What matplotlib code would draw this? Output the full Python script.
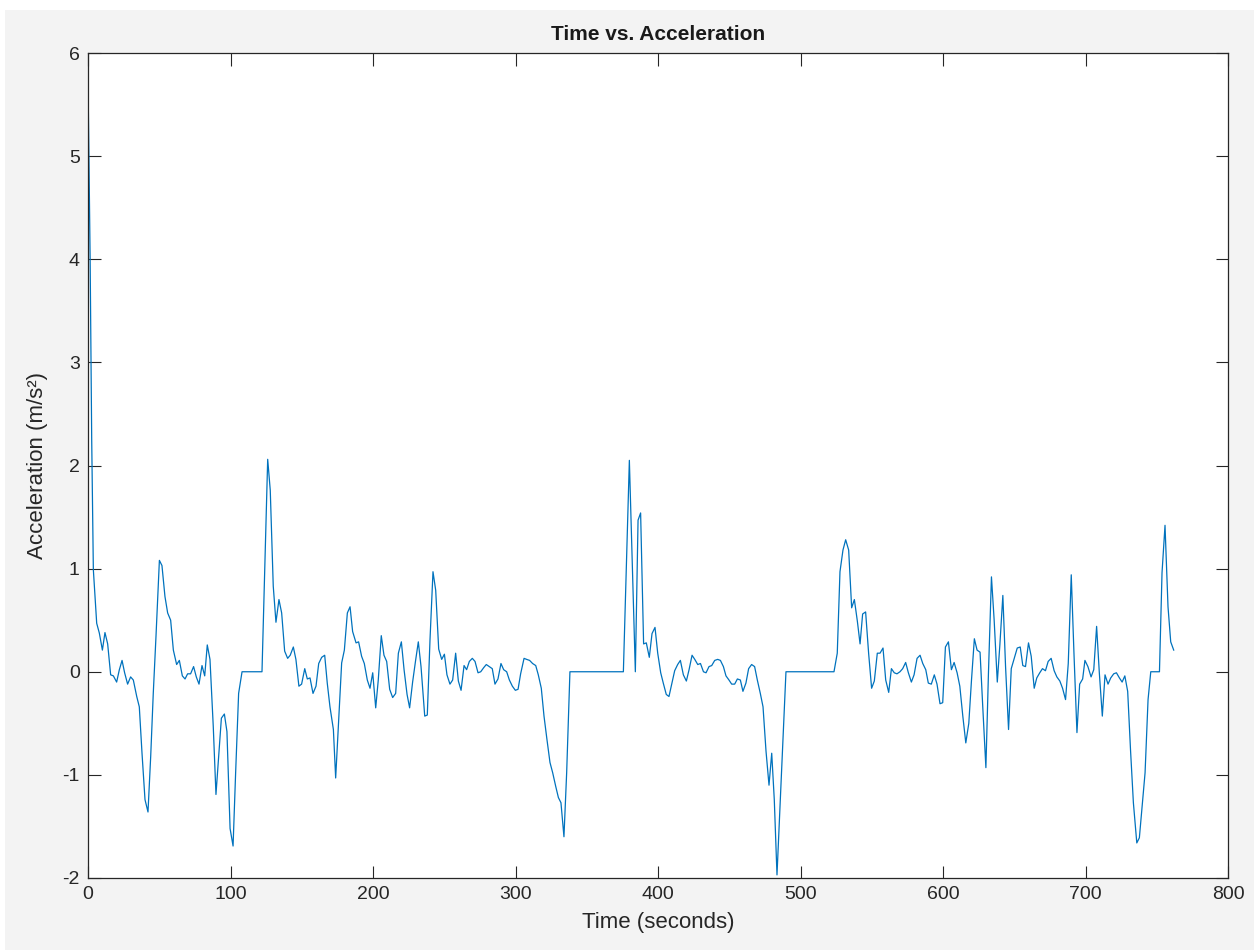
import matplotlib.pyplot as plt
from matplotlib.patches import Rectangle

plt.rcParams['font.family'] = ['Liberation Sans', 'DejaVu Sans']
plt.rcParams['axes.unicode_minus'] = False

# values (time in s, acceleration in m/s^2)
time = [0, 1.5, 2.6, 3.75, 6.1, 7.95, 10.1, 11.9, 13.8, 15.9, 17.8, 20.1, 22.0, 23.9,
        25.7, 27.8, 29.9, 31.8, 34.2, 36.0, 37.9, 40.0, 42.1, 44.0, 45.8, 47.7, 50.1,
        51.9, 54.0, 55.9, 58.0, 59.9, 62.2, 64.1, 66.2, 68.1, 69.9, 72.0, 74.1, 76.0,
        77.9, 80.0, 81.9, 83.7, 85.6, 87.9, 89.8, 91.7, 93.6, 95.7, 97.5, 99.7, 101.8,
        103.6, 105.7, 108.1, 122.1, 126.1, 127.9, 130.0, 131.9, 134.0, 135.9, 138.0,
        140.1, 141.9, 144.1, 145.9, 148.0, 149.9, 152.1, 153.9, 155.8, 157.9, 160.0,
        161.9, 164.0, 166.1, 167.9, 169.8, 172.2, 173.8, 178.0, 179.9, 182.0, 183.9,
        185.7, 188.1, 189.9, 192.0, 193.9, 196.0, 197.9, 199.8, 201.9, 203.7, 205.8,
        207.7, 209.6, 211.7, 213.8, 215.9, 217.8, 219.9, 221.8, 223.9, 225.7, 227.8,
        229.9, 231.8, 233.7, 236.3, 238.1, 240.0, 242.1, 244.0, 246.1, 248.2, 250.1,
        251.9, 254.0, 255.9, 258.0, 259.9, 261.8, 263.9, 265.7, 267.6, 269.7, 271.6,
        273.7, 275.6, 277.7, 279.5, 281.6, 283.7, 285.6, 287.7, 289.8, 291.7, 293.8,
        295.7, 297.8, 299.9, 301.8, 303.6, 306.0, 307.8, 309.9, 312.0, 314.2, 316.0,
        318.1, 320.0, 322.1, 324.2, 326.1, 328.2, 330.1, 331.9, 334.0, 335.9, 338.2,
        375.7, 379.9, 384.1, 386.0, 387.8, 389.9, 391.8, 393.9, 395.8, 397.9, 399.8,
        401.9, 403.7, 405.8, 407.7, 409.8, 411.7, 413.8, 415.7, 417.8, 419.9, 421.8,
        423.9, 425.8, 427.9, 429.8, 431.9, 433.7, 435.8, 437.7, 439.8, 441.9, 443.8,
        445.9, 447.7, 449.8, 451.7, 453.8, 455.7, 457.8, 459.6, 461.7, 463.6, 465.7,
        467.8, 469.7, 471.8, 473.7, 475.8, 477.9, 479.8, 481.6, 483.5, 489.8, 523.5,
        525.8, 527.7, 529.8, 531.7, 533.8, 535.9, 537.8, 539.9, 541.8, 543.6, 545.7,
        547.8, 549.9, 551.8, 553.9, 555.8, 557.9, 559.8, 561.9, 563.8, 565.8, 567.7,
        569.8, 571.7, 573.8, 575.7, 577.8, 579.7, 581.8, 583.9, 585.8, 587.9, 589.7,
        591.8, 593.9, 595.8, 597.9, 599.8, 601.7, 603.8, 605.9, 607.8, 609.9, 611.8,
        613.9, 616.0, 618.1, 620.0, 622.0, 623.9, 626.0, 627.9, 630.1, 631.9, 634.0,
        635.9, 638.1, 639.9, 642.0, 643.9, 646.0, 647.9, 650.0, 652.1, 654.2, 656.0,
        657.9, 660.0, 661.9, 664.0, 665.8, 667.9, 669.8, 671.9, 673.8, 675.9, 678.0,
        679.9, 682.0, 683.9, 686.0, 687.9, 690.0, 691.9, 694.0, 695.9, 698.0, 699.6,
        701.7, 703.9, 705.8, 707.8, 709.7, 711.8, 713.7, 715.8, 717.7, 719.8, 721.7,
        723.8, 725.7, 727.6, 729.6, 731.6, 733.6, 736.0, 737.8, 739.7, 741.8, 743.9,
        745.8, 751.9, 753.7, 755.8, 757.9, 759.8, 761.9]
accel = [5.75, 4.0, 2.25, 0.99, 0.47, 0.375, 0.21, 0.38, 0.27, -0.03, -0.04, -0.10, 0.02,
         0.11, -0.01, -0.12, -0.05, -0.08, -0.24, -0.34, -0.79, -1.24, -1.36, -0.82, -0.21,
         0.34, 1.08, 1.03, 0.73, 0.57, 0.50, 0.21, 0.07, 0.11, -0.04, -0.07, -0.02, -0.02,
         0.05, -0.05, -0.12, 0.06, -0.04, 0.26, 0.12, -0.53, -1.19, -0.82, -0.45, -0.41,
         -0.58, -1.52, -1.69, -0.98, -0.21, 0, 0, 2.06, 1.76, 0.83, 0.48, 0.70, 0.57,
         0.20, 0.13, 0.16, 0.24, 0.12, -0.14, -0.12, 0.03, -0.07, -0.06, -0.21, -0.14,
         0.08, 0.14, 0.16, -0.11, -0.34, -0.56, -1.03, 0.085, 0.21, 0.57, 0.63, 0.39,
         0.28, 0.29, 0.15, 0.08, -0.08, -0.16, -0.01, -0.35, -0.08, 0.35, 0.16, 0.10,
         -0.17, -0.25, -0.21, 0.18, 0.29, 0.02, -0.22, -0.35, -0.10, 0.11, 0.29, 0.05,
         -0.43, -0.42, 0.31, 0.97, 0.79, 0.22, 0.12, 0.17, -0.03, -0.12, -0.08, 0.18,
         -0.09, -0.18, 0.06, 0.02, 0.10, 0.13, 0.10, -0.01, 0.0, 0.04, 0.07, 0.05, 0.03,
         -0.12, -0.07, 0.08, 0.02, 0.0, -0.08, -0.14, -0.18, -0.17, -0.02, 0.13, 0.12,
         0.11, 0.08, 0.06, -0.03, -0.16, -0.43, -0.66, -0.88, -0.98, -1.11, -1.22, -1.27,
         -1.60, -0.98, 0, 0, 2.05, 0, 1.47, 1.54, 0.27, 0.28, 0.14, 0.37, 0.43, 0.18,
         -0.01, -0.11, -0.22, -0.24, -0.11, 0.01, 0.07, 0.11, -0.03, -0.09, 0.02, 0.16,
         0.12, 0.07, 0.08, 0.00, -0.01, 0.05, 0.06, 0.11, 0.12, 0.11, 0.05, -0.04, -0.08,
         -0.12, -0.12, -0.07, -0.08, -0.19, -0.11, 0.03, 0.07, 0.05, -0.08, -0.21, -0.34,
         -0.77, -1.10, -0.79, -1.24, -1.97, 0, 0, 0.18, 0.97, 1.18, 1.28, 1.18, 0.62,
         0.70, 0.49, 0.27, 0.56, 0.58, 0.18, -0.16, -0.09, 0.18, 0.18, 0.23, -0.08,
         -0.20, 0.03, -0.01, -0.02, 0.00, 0.03, 0.09, -0.01, -0.10, -0.03, 0.13, 0.16,
         0.08, 0.02, -0.11, -0.12, -0.03, -0.12, -0.31, -0.30, 0.24, 0.29, 0.02, 0.09,
         -0.01, -0.14, -0.43, -0.69, -0.50, -0.08, 0.32, 0.21, 0.19, -0.34, -0.93, -0.01,
         0.92, 0.50, -0.10, 0.26, 0.74, 0.05, -0.56, 0.03, 0.13, 0.23, 0.24, 0.06, 0.05,
         0.28, 0.15, -0.16, -0.06, -0.01, 0.03, 0.01, 0.10, 0.13, 0.01, -0.05, -0.09,
         -0.16, -0.27, 0.08, 0.94, 0.18, -0.59, -0.12, -0.07, 0.11, 0.05, -0.05, 0.02,
         0.44, -0.01, -0.43, -0.03, -0.12, -0.06, -0.02, -0.01, -0.06, -0.10, -0.04,
         -0.19, -0.76, -1.27, -1.66, -1.61, -1.31, -0.98, -0.27, 0, 0, 0.96, 1.42, 0.63,
         0.29, 0.21]

fig = plt.figure(figsize=(12.54, 9.5), dpi=100, facecolor='white')
# grey window area of the screenshot
fig.patches.append(Rectangle((5 / 1254, 0), 1, (950 - 10) / 950,
                             transform=fig.transFigure, facecolor='#f3f3f3',
                             edgecolor='none', zorder=-10))

ax = fig.add_axes([88 / 1254, 72 / 950, 1140 / 1254, 825 / 950])
ax.plot(time, accel, color='#0072BD', linewidth=0.9)

ax.set_xlim(0, 800)
ax.set_ylim(-2, 6)
ax.set_xticks(range(0, 801, 100))
ax.set_yticks(range(-2, 7))
ax.tick_params(direction='in', length=9, width=0.8, top=True, right=True,
               labelsize=14, colors='#262626', pad=6)
for s in ax.spines.values():
    s.set_color('#262626')
    s.set_linewidth(0.9)

ax.set_title('Time vs. Acceleration', fontsize=15, fontweight='bold', pad=9, color='#1a1a1a')
ax.set_xlabel('Time (seconds)', fontsize=16, color='#262626', labelpad=6)
ax.set_ylabel('Acceleration (m/s²)', fontsize=16, color='#262626', labelpad=10)

plt.savefig('out.png', dpi=100, facecolor=fig.get_facecolor())
